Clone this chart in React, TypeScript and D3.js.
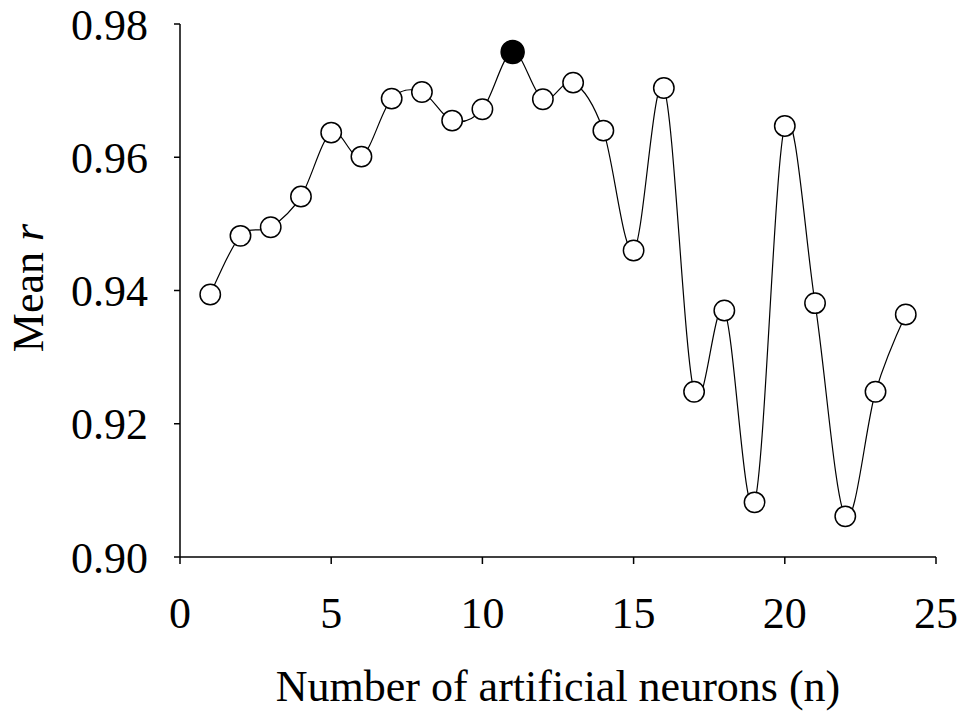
import React from "react";
import * as d3 from "d3";

const neurons = [1,2,3,4,5,6,7,8,9,10,11,12,13,14,15,16,17,18,19,20,21,22,23,24];
const meanR = [0.9394,0.9482,0.9495,0.9541,0.9637,0.9601,0.9688,0.9698,0.9655,0.9672,0.9758,0.9687,0.9712,0.9640,0.9460,0.9704,0.9248,0.9370,0.9082,0.9647,0.9381,0.9061,0.9248,0.9364];
const bestIndex = 10;
const xTicks = [0,5,10,15,20,25];
const yTicks = [0.90,0.92,0.94,0.96,0.98];

export default function App() {
  const W = 963, H = 711;
  const x = d3.scaleLinear().domain([0, 25]).range([180, 936]);
  const y = d3.scaleLinear().domain([0.90, 0.98]).range([557, 24]);
  const pts: [number, number][] = neurons.map((n, i) => [x(n), y(meanR[i])]);
  const line = d3.line().curve(d3.curveCardinal.tension(0))(pts) || "";
  const ts = { fontFamily: '"Liberation Serif", "Times New Roman", Tinos, "DejaVu Serif", serif', fontSize: "44px" };
  return (
    <svg width={W} height={H} style={{ position: "absolute", left: 0, top: 0, background: "#fff" }}>
      <rect width={W} height={H} fill="#fff" />
      <line x1={x(0)} x2={x(25)} y1={y(0.9)} y2={y(0.9)} stroke="#000" strokeWidth={1.5} />
      <line x1={x(0)} x2={x(0)} y1={y(0.9)} y2={y(0.98)} stroke="#000" strokeWidth={1.5} />
      {yTicks.map(t => (
        <g key={"y" + t}>
          <line x1={x(0) - 6} x2={x(0)} y1={y(t)} y2={y(t)} stroke="#000" strokeWidth={1.5} />
          <text x={148} y={y(t) + 15.5} textAnchor="end" style={ts} fill="#000">{t.toFixed(2)}</text>
        </g>
      ))}
      {xTicks.map(t => (
        <g key={"x" + t}>
          <line x1={x(t)} x2={x(t)} y1={y(0.9)} y2={y(0.9) + 7} stroke="#000" strokeWidth={1.5} />
          <text x={x(t)} y={628} textAnchor="middle" style={ts} fill="#000">{t}</text>
        </g>
      ))}
      <text x={558} y={701} textAnchor="middle" style={ts} fill="#000">Number of artificial neurons (n)</text>
      <text transform="translate(43,288) rotate(-90)" textAnchor="middle" style={ts} fill="#000">
        Mean <tspan fontStyle="italic">r</tspan>
      </text>
      <path d={line} fill="none" stroke="#000" strokeWidth={1.2} />
      {pts.map((p, i) => (
        <circle key={i} cx={p[0]} cy={p[1]} r={i === bestIndex ? 11.5 : 10.2}
          fill={i === bestIndex ? "#000" : "#fff"} stroke="#000" strokeWidth={1.5} />
      ))}
    </svg>
  );
}
